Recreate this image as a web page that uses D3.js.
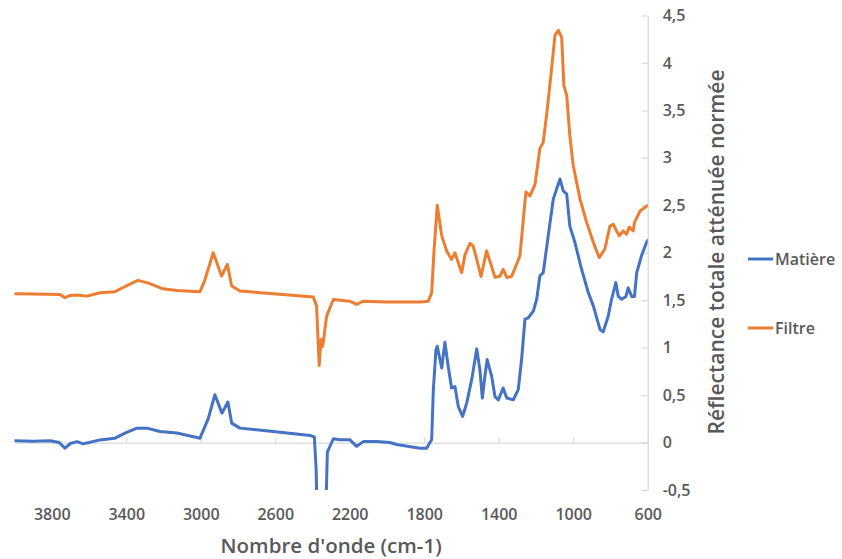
<!DOCTYPE html>
<html>
<head>
<meta charset="utf-8">
<script src="https://cdn.jsdelivr.net/npm/d3@7"></script>
<style>
  html, body { margin: 0; padding: 0; background: #fff; }
  svg { display: block; }
  text { font-family: "Open Sans", "Liberation Sans", sans-serif; fill: #595959; }
</style>
</head>
<body>
<svg id="chart" width="842" height="559"></svg>
<script>
// ---- Data ----
const seriesNames = ["Matière", "Filtre"];
const seriesColors = ["#4472C4", "#ED7D31"];

const matiereWn = [4000,3900,3810,3760,3729,3700,3664,3632,3600,3541,3460,3407,3342,3289,3219,3128,3004,2960,2924,2886,2854,2834,2789,2611,2413,2390,2380,2372,2360,2350,2340,2328,2320,2288,2252,2200,2163,2127,2055,1984,1948,1823,1787,1769,1760,1751,1737,1730,1706,1689,1671,1653,1635,1617,1594,1572,1545,1518,1501,1488,1474,1462,1438,1420,1402,1376,1357,1322,1295,1277,1259,1241,1214,1196,1179,1161,1134,1107,1071,1053,1035,1018,991,955,919,892,856,839,812,794,771,758,740,717,705,686,671,659,633,606,600];
const matiereVal = [0.02,0.015,0.018,0.0,-0.06,-0.01,0.01,-0.014,0.0,0.028,0.046,0.10,0.152,0.152,0.116,0.10,0.046,0.25,0.504,0.31,0.427,0.205,0.152,0.116,0.074,0.06,-0.3,-1.2,-1.5,-1.1,-1.3,-0.7,-0.1,0.04,0.03,0.03,-0.04,0.01,0.01,0.0,-0.02,-0.06,-0.06,0.0,0.03,0.557,0.98,1.015,0.786,1.057,0.80,0.575,0.59,0.38,0.275,0.416,0.663,0.987,0.768,0.469,0.70,0.874,0.70,0.486,0.45,0.575,0.47,0.45,0.557,0.88,1.30,1.315,1.385,1.51,1.755,1.79,2.18,2.566,2.777,2.65,2.62,2.28,2.11,1.826,1.58,1.44,1.19,1.167,1.33,1.51,1.685,1.54,1.51,1.54,1.63,1.54,1.54,1.79,1.97,2.11,2.13];

const filtreWn = [4000,3900,3756,3729,3700,3664,3611,3541,3460,3400,3337,3280,3203,3128,3004,2980,2933,2888,2857,2834,2789,2611,2396,2378,2364,2354,2345,2324,2288,2200,2163,2127,2000,1823,1778,1760,1748,1730,1706,1680,1653,1635,1599,1581,1554,1537,1518,1495,1465,1447,1420,1393,1376,1357,1331,1304,1286,1268,1254,1232,1205,1179,1161,1143,1116,1098,1080,1062,1050,1035,1018,1000,964,928,892,865,860,830,803,785,767,753,731,714,699,678,671,641,606,600];
const filtreVal = [1.569,1.565,1.56,1.527,1.55,1.554,1.543,1.579,1.59,1.65,1.709,1.68,1.62,1.603,1.59,1.7,2.0,1.755,1.878,1.65,1.596,1.569,1.533,1.44,0.811,1.086,1.015,1.332,1.508,1.49,1.456,1.49,1.48,1.48,1.49,1.58,2.0,2.50,2.18,2.02,1.93,2.0,1.79,1.98,2.10,2.07,1.93,1.75,2.02,1.91,1.74,1.755,1.826,1.74,1.75,1.878,1.97,2.35,2.64,2.60,2.72,3.1,3.165,3.45,3.94,4.29,4.345,4.27,3.76,3.66,3.23,2.92,2.57,2.32,2.11,1.97,1.95,2.04,2.28,2.30,2.23,2.18,2.23,2.195,2.27,2.23,2.32,2.44,2.49,2.50];

const xTicks = [3800,3400,3000,2600,2200,1800,1400,1000,600];
const yTicks = [-0.5,0,0.5,1,1.5,2,2.5,3,3.5,4,4.5];

const xTitle = "Nombre d'onde (cm-1)";
const yTitle = "Réflectance totale atténuée normée";

// ---- Chart ----
const svg = d3.select("#chart");
const plotLeft = 14.5, plotRight = 647.7, plotTop = 15.5, plotBottom = 490;

const x = d3.scaleLinear().domain([4000, 600]).range([plotLeft, plotRight]);
const y = d3.scaleLinear().domain([-0.5, 4.5]).range([plotBottom, plotTop]);

const frLocale = d3.formatLocale({decimal: ",", thousands: "", grouping: [3], currency: ["", "€"], minus: "-"});
const yFmt = frLocale.format("~g");

svg.append("defs").append("clipPath").attr("id", "clip")
  .append("rect").attr("x", plotLeft).attr("y", plotTop)
  .attr("width", plotRight - plotLeft).attr("height", plotBottom - plotTop);

const gridColor = "#d9d9d9";

// X axis at y = 0
const xAxisG = svg.append("g")
  .attr("transform", `translate(0,${y(0)})`)
  .call(d3.axisBottom(x).tickValues(xTicks).tickFormat(d3.format("d"))
        .tickSizeInner(-5).tickSizeOuter(0));
xAxisG.select(".domain").attr("stroke", gridColor).attr("stroke-width", 1.3);
xAxisG.selectAll(".tick line").attr("stroke", gridColor).attr("stroke-width", 1.3);
xAxisG.selectAll(".tick text")
  .attr("y", 514 - y(0)).attr("dy", "0.35em")
  .style("font-size", "16px").style("font-weight", "600")
  .attr("fill", "#595959");

// Y axis at right
const yAxisG = svg.append("g")
  .attr("transform", `translate(${plotRight},0)`)
  .call(d3.axisRight(y).tickValues(yTicks).tickFormat(yFmt)
        .tickSizeInner(-6).tickSizeOuter(0).tickPadding(15));
yAxisG.select(".domain").attr("stroke", gridColor).attr("stroke-width", 1.3);
yAxisG.selectAll(".tick line").attr("stroke", gridColor).attr("stroke-width", 1.3);
yAxisG.selectAll(".tick text")
  .style("font-size", "16px").style("font-weight", "600")
  .attr("fill", "#595959");

// Lines
const seriesData = [
  matiereWn.map((w, i) => [w, matiereVal[i]]),
  filtreWn.map((w, i) => [w, filtreVal[i]])
];
const line = d3.line().x(d => x(d[0])).y(d => y(d[1]));

svg.append("g").attr("clip-path", "url(#clip)")
  .selectAll("path").data(seriesData).join("path")
  .attr("d", line)
  .attr("fill", "none")
  .attr("stroke", (d, i) => seriesColors[i])
  .attr("stroke-width", 3)
  .attr("stroke-linejoin", "round")
  .attr("stroke-linecap", "round");

// Axis titles
svg.append("text")
  .attr("x", (plotLeft + plotRight) / 2).attr("y", 546).attr("dy", "0.35em")
  .attr("text-anchor", "middle")
  .style("font-size", "20.5px").style("font-weight", "600")
  .text(xTitle);

svg.append("text")
  .attr("transform", `translate(717,252) rotate(-90)`)
  .attr("dy", "0.35em")
  .attr("text-anchor", "middle")
  .style("font-size", "21px").style("font-weight", "600")
  .text(yTitle);

// Legend
const legendY = [259, 328];
const lg = svg.append("g").selectAll("g").data(seriesNames).join("g")
  .attr("transform", (d, i) => `translate(748,${legendY[i]})`);
lg.append("line").attr("x1", 0).attr("x2", 25).attr("y1", 0).attr("y2", 0)
  .attr("stroke", (d, i) => seriesColors[i]).attr("stroke-width", 3);
lg.append("text").attr("x", 27).attr("dy", "0.35em")
  .style("font-size", "16px").style("font-weight", "600")
  .text(d => d);
</script>
</body>
</html>
